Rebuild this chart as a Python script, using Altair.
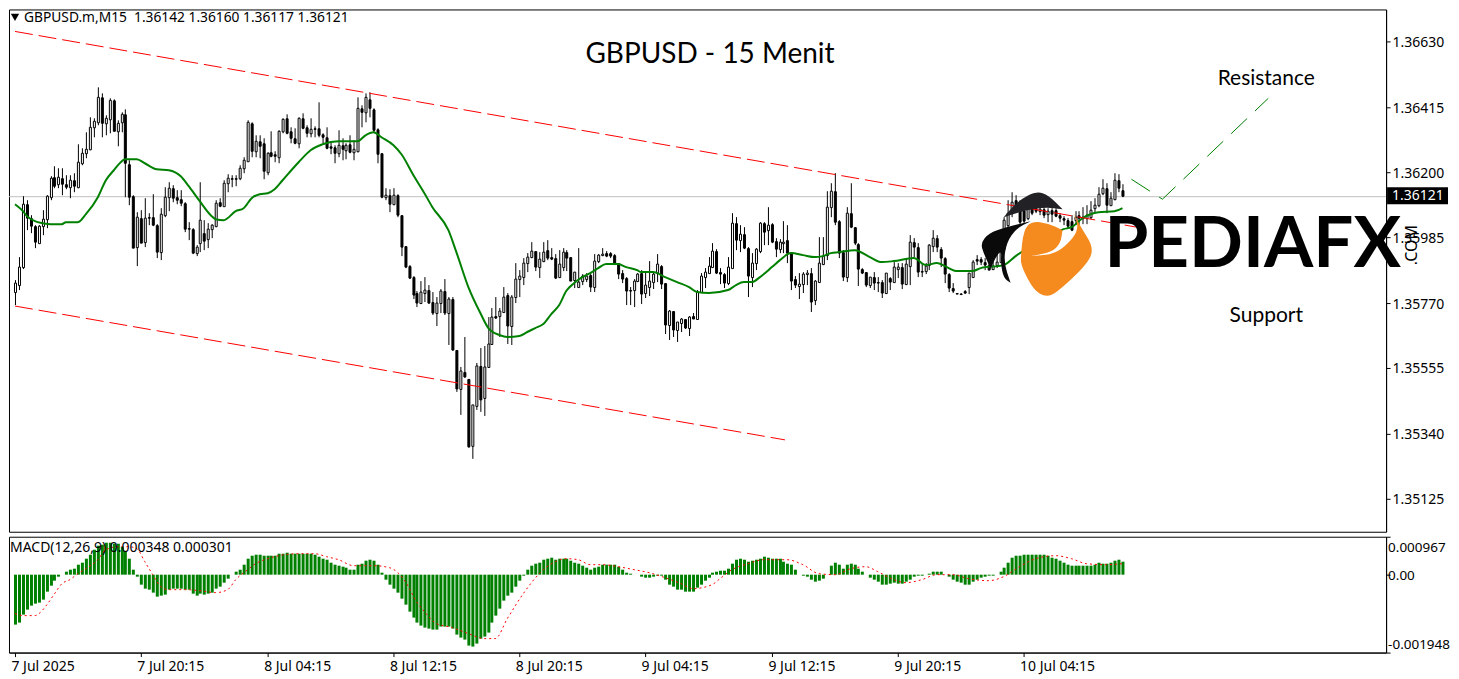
import altair as alt
import pandas as pd

# Candle values, in points (0.00001) above 1.35000
opens = [807,829,889,1095,1048,1022,968,1022,1044,1119,
 1182,1160,1179,1160,1152,1174,1152,1230,1261,1274,
 1347,1365,1445,1360,1373,1436,1336,1365,1389,1226,
 1121,954,1049,971,1051,1051,1026,938,1058,1117,
 1148,1117,1111,1097,1015,1011,935,968,998,979,
 1011,1022,1102,1088,1165,1181,1179,1181,1212,1237,
 1362,1270,1303,1296,1201,1267,1259,1250,1336,1376,
 1336,1313,1296,1376,1347,1329,1345,1345,1325,1314,
 1285,1283,1263,1289,1272,1292,1267,1270,1409,1398,
 1439,1407,1340,1261,1117,1124,1095,1124,1058,957,
 891,854,801,770,801,812,774,735,768,809,
 735,781,615,486,543,520,299,431,562,456,
 558,633,727,727,741,795,694,788,849,856,
 902,919,940,889,908,943,919,916,856,889,
 936,919,845,823,843,847,861,823,908,928,
 935,934,927,900,867,850,812,812,843,869,
 801,823,839,867,891,834,697,743,681,705,
 718,687,727,718,804,856,869,889,941,872,
 865,834,885,1031,976,995,951,856,902,941,
 1031,1009,1029,973,947,967,976,936,848,826,
 831,866,867,779,839,897,927,1086,1138,1039,
 938,856,1066,1020,963,880,870,828,854,837,
 837,801,850,839,880,889,831,892,969,952,
 875,875,894,958,982,947,916,864,820,801,
 799,808,821,856,913,913,905,894,880,894,
 905,949,1026,1064,1108,1080,1075,1047,1080,1080,
 1072,1077,1061,1074,1075,1058,1047,1042,1039,1042,
 1058,1050,1047,1053,1080,1091,1130,1148,1091,1110,1173,1142]
highs = [845,922,1121,1108,1059,1026,1026,1075,1124,1185,
 1220,1212,1212,1190,1190,1195,1292,1278,1332,1382,
 1376,1478,1458,1387,1442,1439,1371,1398,1406,1239,
 1124,1069,1075,1113,1064,1126,1029,1080,1149,1166,
 1157,1139,1141,1102,1037,1015,960,1166,1042,1031,
 1029,1108,1113,1174,1193,1190,1190,1223,1250,1371,
 1365,1321,1321,1310,1267,1335,1270,1338,1376,1389,
 1349,1343,1379,1393,1354,1376,1351,1429,1327,1347,
 1300,1289,1338,1310,1296,1321,1305,1445,1420,1458,
 1464,1409,1343,1263,1146,1143,1146,1128,1058,957,
 894,858,810,840,856,829,807,790,814,847,
 790,790,615,558,659,520,434,573,620,629,
 722,752,790,752,823,801,795,902,878,916,
 932,969,940,938,969,976,949,930,943,951,
 943,921,872,949,865,867,869,929,930,949,
 941,938,930,902,878,854,823,847,869,878,
 872,908,872,930,894,834,746,744,708,719,
 718,727,737,812,869,883,921,965,946,883,
 869,921,1064,1051,1026,1020,954,932,949,1036,
 1037,1084,1031,982,978,1040,1026,938,858,867,
 872,878,883,845,985,985,1138,1165,1195,1042,
 943,1084,1162,1020,965,883,872,856,872,854,
 845,869,856,905,900,902,916,993,982,965,
 900,900,963,1009,993,954,919,869,836,801,
 801,812,869,911,927,919,916,924,916,935,
 960,1053,1108,1133,1124,1108,1091,1086,1091,1088,
 1086,1086,1080,1080,1080,1064,1055,1047,1060,1070,
 1070,1085,1092,1105,1115,1150,1176,1162,1135,1195,1193,1160]
lows = [763,812,880,1009,998,949,965,993,1015,1108,
 1146,1146,1124,1143,1113,1135,1146,1223,1245,1272,
 1316,1354,1316,1321,1327,1336,1286,1332,1117,1091,
 949,892,965,954,1026,1022,916,909,1053,1073,
 1102,1095,1088,1004,976,930,924,938,943,949,
 982,1020,1086,1088,1135,1152,1154,1174,1198,1237,
 1250,1250,1245,1176,1190,1248,1234,1228,1327,1325,
 1294,1292,1280,1340,1316,1314,1316,1316,1294,1275,
 1259,1230,1250,1239,1241,1263,1239,1267,1349,1365,
 1379,1332,1230,1113,1108,1069,1091,1053,924,885,
 847,781,757,766,774,766,730,694,735,730,
 631,613,478,401,524,294,258,418,412,399,
 555,631,718,659,735,635,631,770,790,828,
 872,916,876,850,905,911,911,847,850,876,
 876,842,817,821,828,839,806,806,902,925,
 921,918,894,847,836,763,763,757,839,766,
 785,792,814,839,814,667,648,656,642,675,
 683,661,716,716,801,817,867,886,865,832,
 817,828,883,943,938,947,790,821,878,932,
 960,960,965,922,932,932,900,812,817,782,
 801,828,741,763,837,894,910,1053,1026,916,
 843,839,1015,960,825,865,823,817,812,806,
 787,799,812,837,850,814,828,828,921,856,
 854,864,878,938,938,889,834,806,801,799,
 798,799,799,854,894,894,878,878,878,885,
 900,940,998,1053,1069,1026,1031,1042,1058,1064,
 1058,1047,1037,1037,1053,1037,1026,1015,1005,1025,
 1020,1030,1028,1045,1065,1085,1124,1064,1091,1108,1135,1117]
closes = [836,889,1095,1048,1022,971,1022,1044,1121,1179,
 1154,1182,1160,1152,1174,1154,1234,1263,1274,1347,
 1367,1445,1362,1376,1436,1336,1362,1389,1228,1119,
 951,1051,968,1048,1048,1026,938,1062,1117,1146,
 1113,1108,1097,1011,1011,935,954,1042,974,1011,
 1026,1097,1088,1163,1181,1177,1176,1212,1239,1363,
 1270,1300,1285,1204,1263,1252,1252,1335,1373,1327,
 1310,1296,1376,1343,1329,1340,1340,1321,1314,1280,
 1280,1261,1289,1274,1289,1267,1274,1409,1398,1447,
 1409,1338,1258,1117,1124,1095,1124,1058,952,889,
 853,796,770,807,812,770,738,770,810,738,
 783,615,486,546,525,297,434,562,451,558,
 633,722,720,743,790,694,788,847,858,902,
 919,939,889,913,936,917,914,853,897,936,
 918,843,870,839,859,859,821,908,927,930,
 925,925,897,865,847,810,809,843,863,799,
 828,842,863,896,832,697,743,681,706,716,
 686,722,718,806,858,870,891,940,869,863,
 834,886,1031,976,995,951,858,900,946,1033,
 1004,1026,971,947,969,971,932,843,828,831,
 863,868,774,842,900,924,1084,1138,1037,932,
 854,1064,1020,967,880,867,828,854,834,834,
 801,867,839,886,886,831,897,969,952,872,
 872,891,960,982,952,916,863,817,809,799,
 798,803,867,905,907,903,894,878,891,905,
 954,1042,1064,1102,1080,1037,1040,1077,1066,1073,
 1077,1058,1071,1062,1056,1047,1042,1022,1009,1053,
 1047,1053,1060,1075,1091,1126,1146,1091,1113,1173,1146,1121]

ma_bars = [0,2,3,5,7,9,12,13,16,18,21,23,25,27,28,31,33,36,39,42,44,47,50,51,53,56,58,60,62,64,66,68,72,75,78,82,87,89,91,93,96,98,101,104,106,110,112,115,118,120,
 121,123,125,128,130,132,134,136,138,140,142,144,146,148,150,153,155,158,159,162,165,168,171,173,176,181,183,185,187,189,192,194,197,200,203,205,207,209,213,217,220,223,228,231,234,237,239,243,245,251,254,257,260,263,266,268,271,275,279,281]
ma_vals = [1095,1070,1055,1040,1033,1029,1029,1037,1037,1061,1119,1174,1206,1236,1241,1241,1230,1210,1206,1187,1154,1105,1055,1044,1042,1070,1080,1113,1128,1132,1144,1174,1232,1272,1292,1303,1303,1321,1332,1314,1289,1259,1190,1132,1084,1009,938,823,735,686,
 678,664,659,661,673,686,699,733,763,810,836,856,869,883,896,897,889,878,872,872,856,839,823,805,803,811,828,837,837,856,889,911,932,927,921,924,932,938,943,919,905,907,918,894,900,883,875,875,885,894,924,949,976,993,1011,1020,1047,1067,1072,1083]

# MACD histogram, in millionths
macd_hist = [-1256,-1198,-1005,-863,-779,-729,-687,-628,-419,-268,-151,-42,17,84,126,151,251,318,402,503,
 628,729,771,812,821,796,796,712,586,419,126,-42,-251,-335,-377,-436,-544,-528,-486,-377,
 -352,-335,-335,-377,-377,-477,-528,-461,-486,-461,-444,-352,-293,-184,-84,8,84,142,251,402,
 477,503,519,477,477,477,486,528,544,570,544,544,544,544,528,528,519,461,419,394,
 318,268,235,209,193,142,126,251,293,360,377,360,268,59,-126,-235,-335,-444,-603,-754,
 -921,-1064,-1198,-1273,-1315,-1357,-1382,-1365,-1298,-1298,-1298,-1340,-1508,-1566,-1617,-1784,-1801,-1717,-1591,-1550,
 -1441,-1198,-1030,-854,-645,-519,-436,-293,-151,-17,126,235,293,318,394,419,444,394,402,410,
 419,360,318,276,226,184,142,184,209,251,
 268,251,268,209,142,67,25,17,4,-42,-75,-75,-42,-8,-17,-126,-235,-293,-360,-377,
 -419,-419,-419,-310,-251,-151,-59,67,92,117,109,151,276,377,419,377,335,352,377,419,
 461,436,419,410,402,335,293,260,126,17,-8,-42,-126,-168,-142,-84,4,235,318,251,
 151,251,293,268,168,84,17,-59,-126,-168,-235,-235,-226,-193,-209,-226,-168,-109,-42,-17,
 -25,4,42,92,92,84,17,-42,-126,-168,-193,-235,-235,-168,-109,-59,-42,-25,-8,17,
 75,193,318,436,477,494,503,511,519,519,519,503,477,436,402,360,310,268,243,243,
 243,226,243,243,268,310,293,293,318,360,377,348]

signal_bars = [0,2,5,6,8,10,12,14,16,18,21,23,26,29,31,33,35,37,39,43,47,51,54,56,59,61,64,67,72,76,79,82,86,91,95,99,102,104,107,111,115,119,122,125,129,133,137,140,143,146,149,
 153,157,161,165,169,172,177,179,182,186,190,196,200,204,208,212,216,219,223,226,230,234,238,242,247,251,255,259,264,268,272,277,281]
signal_vals = [-963,-1030,-1022,-963,-754,-503,-209,-126,42,168,377,628,712,712,670,335,0,-293,-377,-377,-402,-436,-360,-126,126,293,402,486,528,544,461,377,226,226,193,-168,-670,-921,-1215,-1315,-1466,-1591,-1591,-1089,-461,42,335,402,377,268,251,
 209,142,59,-59,-209,-335,-251,-84,126,293,394,394,251,42,17,168,209,84,-126,-193,-126,17,0,-84,-142,-42,209,419,486,402,293,268,301]

upper_channel_bars = [0, 286]
upper_channel_vals = [1663, 1016]
lower_channel_bars = [0, 195.5]
lower_channel_vals = [759, 319]
forecast_bars = [283.25, 291.25, 318]
forecast_vals = [1178, 1111, 1443]

price_ticks = [1.36630, 1.36415, 1.36200, 1.35985, 1.35770, 1.35555, 1.35340, 1.35125]
last_price = 1.36121
time_tick_bars = [0, 32, 64, 96, 128, 160, 192, 224, 256]
time_tick_labels = ["7 Jul 2025", "7 Jul 20:15", "8 Jul 04:15", "8 Jul 12:15", "8 Jul 20:15",
                    "9 Jul 04:15", "9 Jul 12:15", "9 Jul 20:15", "10 Jul 04:15"]
macd_ticks = [0.000967, 0.0, -0.001948]
macd_tick_labels = ["0.000967", "0.00", "-0.001948"]
header_text = "GBPUSD.m,M15\u00a0\u00a01.36142 1.36160 1.36117 1.36121"
macd_text = "MACD(12,26,9) 0.000348 0.000301"

def pr(v):
    return 1.35 + v / 1e5

FONT = "Noto Sans"
OX, OY = 9, 9            # where the plot origin falls on the page
PW, MAIN_H, MACD_H = 1379, 523, 116
x_scale = alt.Scale(domain=[-0.2516, 346.67], nice=False, zero=False, round=True)
y_scale = alt.Scale(domain=[1.350168, 1.367354], nice=False, zero=False, round=True)
m_scale = alt.Scale(domain=[-0.001948, 0.000967], nice=False, zero=False, round=True)

price_axis = alt.Axis(orient="right", values=price_ticks, format=".5f", grid=False, title=None,
                      tickSize=4, labelPadding=2, labelOverlap=False, labelOffset=1)
label_expr = "[" + ",".join(f"'{s}'" for s in time_tick_labels) + "][datum.value / 32]"
x_axis = alt.Axis(values=time_tick_bars, labelExpr=label_expr, labelAlign="left", labelPadding=3, tickSize=4,
                  grid=False, title=None, labelOverlap=False, labelFlush=False, labelBound=False, labelOffset=-4)
m_axis = alt.Axis(orient="right", values=macd_ticks, labels=False, grid=False, title=None, tickSize=4)

X = alt.X("i:Q", scale=x_scale, axis=None)
Y = lambda f: alt.Y(f, type="quantitative", scale=y_scale, axis=price_axis)

candles = pd.DataFrame({"i": range(len(opens)), "o": [pr(v) for v in opens], "h": [pr(v) for v in highs],
                        "l": [pr(v) for v in lows], "c": [pr(v) for v in closes]})
ma_df = pd.DataFrame({"i": ma_bars, "p": [pr(v) for v in ma_vals]})
one = pd.DataFrame({"p": [last_price], "t": [f"{last_price:.5f}"]})

def line_df(b, v):
    return pd.DataFrame({"i": b, "p": [pr(k) for k in v]})

base_rule = alt.Chart(one).mark_rule(color="#c0c0c0", strokeWidth=1, yOffset=0.5).encode(y=Y("p"))
wicks = alt.Chart(candles).mark_rule(color="black", strokeWidth=1, xOffset=0.5).encode(x=X, y=Y("l"), y2="h:Q")
bodies = alt.Chart(candles).mark_bar(size=2, stroke="black", strokeWidth=1, xOffset=0.5, yOffset=0.5).encode(
    x=X, y=Y("o"), y2="c:Q",
    fill=alt.condition("datum.c > datum.o", alt.value("white"), alt.value("black")))
ma_line = alt.Chart(ma_df).mark_line(color="#008000", strokeWidth=2, interpolate="monotone").encode(x=X, y=Y("p"))
upper = alt.Chart(line_df(upper_channel_bars, upper_channel_vals)).mark_line(
    color="#ff0000", strokeWidth=1, strokeDash=[18, 6]).encode(x=X, y=Y("p"))
lower = alt.Chart(line_df(lower_channel_bars, lower_channel_vals)).mark_line(
    color="#ff0000", strokeWidth=1, strokeDash=[18, 6]).encode(x=X, y=Y("p"))
forecast = alt.Chart(line_df(forecast_bars, forecast_vals)).mark_line(
    color="#008000", strokeWidth=1, strokeDash=[22, 11]).encode(x=X, y=Y("p"))

def txt(s, x, y, size, font=FONT, align="left", color="black", weight=400, angle=0):
    return alt.Chart(pd.DataFrame({"s": [s]})).mark_text(
        font=font, fontSize=size, align=align, baseline="middle", color=color, fontWeight=weight, angle=angle
    ).encode(text="s:N", x=alt.value(x - OX), y=alt.value(y - OY))

box = alt.Chart(one).mark_rect(color="black").encode(
    x=alt.value(1389 - OX), x2=alt.value(1450 - OX), y=alt.value(187 - OY), y2=alt.value(204 - OY))
box_text = txt(f"{last_price:.5f}", 1394, 195.5, 14, color="white")

tri = alt.Chart(one).mark_point(shape="triangle-down", filled=True, color="black", opacity=1, size=70).encode(
    x=alt.value(15 - OX), y=alt.value(17 - OY))

# Logo
CX, CY, HALF = 1040.0, 245.0, 62.0

def smooth(pts):
    n = len(pts)
    u = [((x - CX) / HALF, (y - CY) / HALF) for x, y in pts]
    mid = lambda a, b: ((a[0] + b[0]) / 2, (a[1] + b[1]) / 2)
    s = mid(u[-1], u[0])
    d = f"M{s[0]:.4f},{s[1]:.4f}"
    for k in range(n):
        m = mid(u[k], u[(k + 1) % n])
        d += f"Q{u[k][0]:.4f},{u[k][1]:.4f} {m[0]:.4f},{m[1]:.4f}"
    return d + "Z"

orange_pts = [(1033,221),(1050,223),(1064,230),(1064,230),(1062,243),(1053,252),(1033,256),(1033,256),(1057,254),(1075,238),(1080,226),(1075,213),(1075,213),(1083,228),(1095,247),(1090,263),(1058,293),(1047,297),(1035,290),(1023,267),(1022,257),(1025,230)]
cap_pts = [(1005,217),(1005,217),(1020,200),(1038,191),(1050,195),(1064,209),(1064,209),(1047,207),(1027,210)]
swoosh_pts = [(982,243),(990,233),(1007,227),(1032,221),(1032,221),(1018,228),(1008,242),(1005,262),(1012,283),(1012,283),(1005,278),(1002,263),(1003,250),(997,257),(992,269),(992,269),(985,253)]

def logo(pts, color):
    return alt.Chart(one).mark_point(shape=smooth(pts), filled=True, color=color, opacity=1,
                                     size=(2 * HALF) ** 2, strokeWidth=0).encode(
        x=alt.value(CX - OX), y=alt.value(CY - OY))

main = alt.layer(
    base_rule, wicks, bodies, ma_line, upper, lower, forecast, box, box_text, tri,
    txt(header_text, 24, 18, 13.8),
    txt("GBPUSD - 15 Menit", 711, 55, 28, font="Lato", align="center"),
    txt("Resistance", 1268, 79, 21, font="Lato", align="center"),
    txt("Support", 1268, 316, 21, font="Lato", align="center"),
    logo(swoosh_pts, "#0a0a0a"), logo(cap_pts, "#222226"), logo(orange_pts, "#f58a1e"),
    txt("PEDIAFX", 1106, 246, 71, font="Lato", weight=700),
    txt(".COM", 1414, 245, 16, align="center", angle=270),
).properties(width=PW, height=MAIN_H)

hist_df = pd.DataFrame({"i": range(len(macd_hist)), "v": [v / 1e6 for v in macd_hist], "z": [0.0] * len(macd_hist)})
sig_df = pd.DataFrame({"i": signal_bars, "v": [v / 1e6 for v in signal_vals]})
MX = alt.X("i:Q", scale=x_scale, axis=x_axis)
MY = alt.Y("v:Q", scale=m_scale, axis=m_axis)

hist = alt.Chart(hist_df).mark_bar(size=3, color="#008000", xOffset=0.5).encode(x=MX, y=MY, y2="z:Q")
sig = alt.Chart(sig_df).mark_line(color="#ff0000", strokeWidth=1, strokeDash=[2, 3], interpolate="monotone").encode(
    x=MX, y=MY)
m_labels = []
for v, s, dy in zip(macd_ticks, macd_tick_labels, [11, 1, -8]):
    m_labels.append(alt.Chart(pd.DataFrame({"v": [v], "s": [s]})).mark_text(
        font=FONT, fontSize=13.5, align="left", baseline="middle", dy=dy, color="black").encode(
        text="s:N", x=alt.value(PW + 2), y=MY))
macd_name = alt.Chart(pd.DataFrame({"s": [macd_text]})).mark_text(
    font=FONT, fontSize=14, align="left", baseline="middle", color="black").encode(
    text="s:N", x=alt.value(1), y=alt.value(11))

macd = alt.layer(hist, sig, macd_name, *m_labels).properties(width=PW, height=MACD_H)

chart = alt.vconcat(main, macd, spacing=5, bounds="flush").properties(padding=0).configure_view(
    stroke="black", fill="white"
).configure_axis(
    labelFont=FONT, labelFontSize=14, labelColor="black", tickColor="black", domainColor="black"
)

chart.save("out.html", embed_options={"renderer": "svg", "actions": False})
